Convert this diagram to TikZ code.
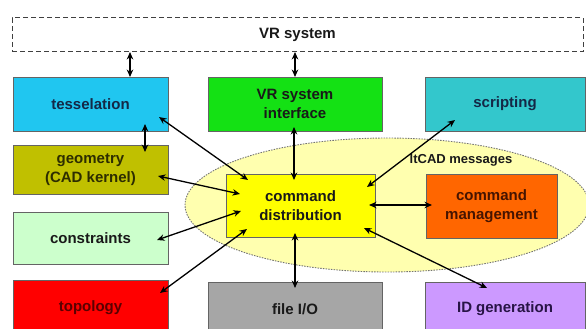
\documentclass[tikz,border=0pt]{standalone}
\usepackage{fontspec}
\setmainfont{Liberation Sans}
\usetikzlibrary{arrows.meta,calc,shapes.geometric}
\definecolor{cTess}{RGB}{32,198,240}
\definecolor{cVri}{RGB}{20,225,20}
\definecolor{cScr}{RGB}{51,199,204}
\definecolor{cGeo}{RGB}{192,192,0}
\definecolor{cCons}{RGB}{204,255,204}
\definecolor{cTopo}{RGB}{255,0,0}
\definecolor{cFio}{RGB}{166,166,166}
\definecolor{cIdg}{RGB}{204,153,255}
\definecolor{cCd}{RGB}{255,255,0}
\definecolor{cCm}{RGB}{255,102,0}
\definecolor{cEll}{RGB}{255,255,175}
\definecolor{cBord}{RGB}{100,100,100}
\definecolor{tNavy}{RGB}{20,40,70}
\definecolor{tDark}{RGB}{25,25,25}
\definecolor{tRed}{RGB}{90,0,0}
\definecolor{tBrown}{RGB}{70,20,0}
\definecolor{tOlive}{RGB}{45,45,0}
\definecolor{tPurp}{RGB}{40,20,70}
\tikzset{
  box/.style={draw=cBord, line width=0.7pt, align=center, inner sep=0pt,
    font=\fontsize{15}{19}\selectfont\bfseries, text=tDark},
  dbl/.style={line width=1.3pt, {Stealth[length=7.5pt,width=6.5pt]}-{Stealth[length=7.5pt,width=6.5pt]}},
}
\begin{document}
\begin{tikzpicture}[x=1pt,y=-1pt]
\useasboundingbox (0,0) rectangle (586,329);
\clip (0,0) rectangle (586,329);
% ellipse
\node[ellipse, draw=black!55, dash pattern=on 1.5pt off 1.2pt, line width=0.9pt, fill=cEll,
  minimum width=404pt, minimum height=134pt, inner sep=0pt] (ell) at (387,205) {};
\node[font=\fontsize{13}{15}\selectfont\bfseries, text=tDark] (msg) at (461,160) {ltCAD messages};
% boxes
\node[box, draw=black!75, dash pattern=on 5pt off 3pt, line width=1pt, minimum width=571pt, minimum height=34pt] (vr) at (297.5,35) {VR system};
\node[box, fill=cTess, text=tNavy, minimum width=155pt, minimum height=54pt] (tess) at (90.5,104) {tesselation};
\node[box, fill=cVri, minimum width=174pt, minimum height=54pt] (vri) at (295,104) {VR system\\interface};
\node[box, fill=cScr, text=tNavy, minimum width=160pt, minimum height=54pt] (scr) at (505,104) {scripting};
\node[box, fill=cGeo, text=tOlive, minimum width=155pt, minimum height=49pt] (geo) at (90.5,169.5) {geometry\\(CAD kernel)};
\node[box, fill=cCons, minimum width=155pt, minimum height=52pt] (cons) at (90.5,238) {constraints};
\node[box, fill=cTopo, text=tRed, minimum width=155pt, minimum height=55pt] (topo) at (90.5,307.5) {topology};
\node[box, fill=cFio, minimum width=174pt, minimum height=54pt] (fio) at (295,309) {file I/O};
\node[box, fill=cIdg, text=tPurp, minimum width=160pt, minimum height=54pt] (idg) at (505,309) {ID generation};
\node[box, fill=cCd, minimum width=149pt, minimum height=63pt] (cd) at (300.5,205.5) {command\\distribution};
\node[box, fill=cCm, text=tBrown, minimum width=131pt, minimum height=64pt] (cm) at (491.5,206) {command\\management};
% connectors
\draw[dbl] ($(vr.center)+(-167.5,17)$) -- ($(tess.center)+(39.5,-27)$);
\draw[dbl] ($(vr.center)+(-2.5,17)$) -- ($(vri.center)+(0,-27)$);
\draw[dbl] ($(tess.center)+(54.5,20)$) -- ($(geo.center)+(54.5,-17.5)$);
\draw[dbl] ($(vri.center)+(-1,23)$) -- ($(cd.center)+(-6.5,-25.5)$);
\draw[dbl] ($(tess.center)+(68.5,13)$) -- ($(cd.center)+(-52.5,-25.5)$);
\draw[dbl] ($(geo.center)+(67.5,6.5)$) -- ($(cd.center)+(-60.5,-11.5)$);
\draw[dbl] ($(cons.center)+(66.5,2)$) -- ($(cd.center)+(-59.5,5.5)$);
\draw[dbl] ($(topo.center)+(69.5,-14.5)$) -- ($(cd.center)+(-53.5,23.5)$);
\draw[dbl] ($(cd.center)+(66.5,-18.5)$) -- ($(scr.center)+(-50,16)$);
\draw[dbl] ($(cd.center)+(68.5,-0.5)$) -- ($(cm.center)+(-59.5,-1)$);
\draw[dbl] ($(cd.center)+(63.5,22.5)$) -- ($(idg.center)+(-18,-21)$);
\draw[dbl] ($(cd.center)+(-5.5,27.5)$) -- ($(fio.center)+(0,-21)$);
\end{tikzpicture}
\end{document}
